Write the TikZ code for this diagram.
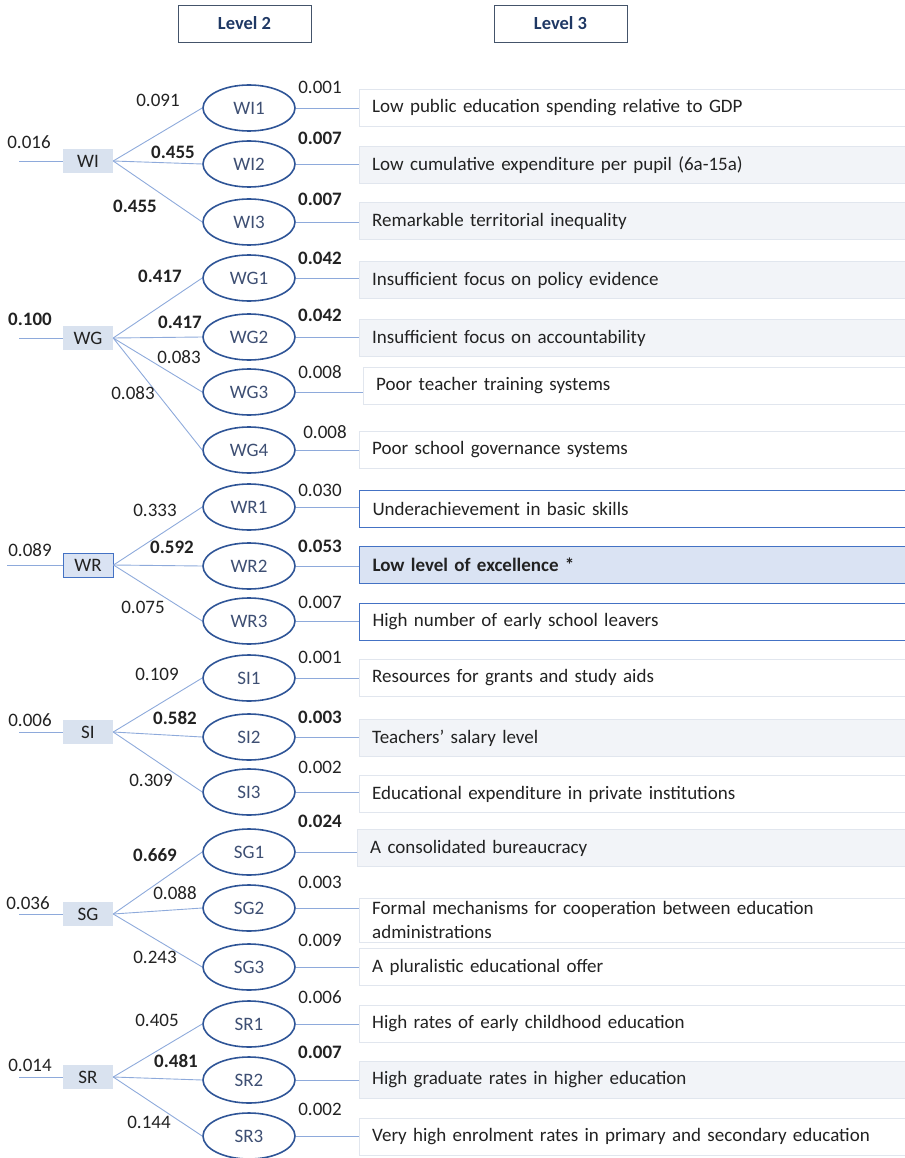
\documentclass[tikz,border=0pt]{standalone}
\usepackage{fontspec}
\setmainfont{Carlito}
\usetikzlibrary{shapes.geometric}
\definecolor{lvfill}{HTML}{D9E2EF}
\definecolor{ellblue}{HTML}{2F5597}
\definecolor{elltext}{HTML}{3E4F73}
\definecolor{linkblue}{HTML}{8EAADB}
\definecolor{indline}{HTML}{E1E6EE}
\definecolor{indfill}{HTML}{F2F4F8}
\definecolor{wrline}{HTML}{4472C4}
\definecolor{wrfill}{HTML}{DAE3F3}
\definecolor{headline}{HTML}{44546A}
\definecolor{headtext}{HTML}{1F3864}
\definecolor{txt}{HTML}{222222}
\begin{document}
\begin{tikzpicture}[x=1pt,y=-1pt,
  every node/.style={font=\fontsize{19}{24}\selectfont,text=txt},
  head/.style={draw=headline,line width=.9pt,minimum width=133pt,minimum height=37pt,
    font=\fontsize{18.5}{22}\selectfont\bfseries,text=headtext},
  lvtwo/.style={fill=lvfill,minimum width=50pt,minimum height=24pt,inner sep=0pt},
  crit/.style={ellipse,draw=ellblue,line width=1.6pt,minimum width=92pt,minimum height=46pt,
    inner sep=0pt,text=elltext},
  ind/.style={draw=indline,fill=white,anchor=west,text width=530pt,align=left,
    inner xsep=13pt,minimum height=37pt},
  indhi/.style={ind,fill=indfill},
  indwr/.style={ind,draw=wrline,line width=1pt},
  indwrhi/.style={indwr,fill=wrfill,font=\fontsize{19}{24}\selectfont\bfseries},
  wt/.style={inner sep=0pt},
  link/.style={draw=linkblue,line width=.9pt}]
\useasboundingbox (0,0) rectangle (904,1158);
% headers
\node[head] (L2) at (244.5,23.5) {Level 2};
\node[head] (L3) at (560.5,23.5) {Level 3};
% level 2
\node[lvtwo] (WI) at (88,161) {WI};
\node[lvtwo] (WG) at (88,338) {WG};
\node[lvtwo,draw=wrline,line width=1pt,fill=wrfill] (WR) at (88,565) {WR};
\node[lvtwo] (SI) at (88,732) {SI};
\node[lvtwo] (SG) at (88,914) {SG};
\node[lvtwo] (SR) at (88,1077) {SR};
\foreach \p/\x/\lx/\ly/\lw in {WI/19/29/142/0.016,WG/19/30/319/{\textbf{0.100}},WR/7/30/550/0.089,
  SI/19/30/720/0.006,SG/19/28/903/0.036,SR/19/30/1065/0.014}{
  \coordinate (i\p) at (\x,0 |- \p.west);
  \draw[link] (i\p) -- (\p.west);
  \node[wt] (v\p) at (\lx,\ly) {\lw};
}
% level 3
\foreach \p/\n/\ey/\lx/\ly/\lw/\wx/\wy/\ww/\st/\bx/\by/\txt in {
  WI/WI1/108/158/100/0.091/320/87/0.001/ind/359/108/{Low public education spending relative to GDP},
  WI/WI2/164/173/152/{\textbf{0.455}}/320/138/{\textbf{0.007}}/indhi/359/165/{Low cumulative expenditure per pupil (6a-15a)},
  WI/WI3/222/135/206/{\textbf{0.455}}/320/199/{\textbf{0.007}}/indhi/359/221/{Remarkable territorial inequality},
  WG/WG1/278/160/276/{\textbf{0.417}}/320/258/{\textbf{0.042}}/indhi/359/280/{Insufficient focus on policy evidence},
  WG/WG2/337/180/322/{\textbf{0.417}}/320/315/{\textbf{0.042}}/indhi/359/338/{Insufficient focus on accountability},
  WG/WG3/392/179/357/0.083/320/372/0.008/ind/363/386/{Poor teacher training systems},
  WG/WG4/450/133/393/0.083/325/432/0.008/ind/359/450/{Poor school governance systems},
  WR/WR1/507/155/510/0.333/320/490/0.030/indwr/359/509/{Underachievement in basic skills},
  WR/WR2/566/172/547/{\textbf{0.592}}/320/546/{\textbf{0.053}}/indwrhi/359/565/{Low level of excellence *},
  WR/WR3/621/143/607/0.075/320/602/0.007/indwr/359/622/{High number of early school leavers},
  SI/SI1/678/157/674/0.109/320/657/0.001/ind/359/678/{Resources for grants and study aids},
  SI/SI2/737/175/718/{\textbf{0.582}}/320/717/{\textbf{0.003}}/indhi/359/738/{Teachers’ salary level},
  SI/SI3/792/151/780/0.309/320/767/0.002/ind/359/794/{Educational expenditure in private institutions},
  SG/SG1/852/155/855/{\textbf{0.669}}/320/821/{\textbf{0.024}}/indhi/357/848/{A consolidated bureaucracy},
  SG/SG2/908/175/893/0.088/320/882/0.003/ind/359/920/{Formal mechanisms for cooperation between education\\administrations},
  SG/SG3/967/155/957/0.243/320/940/0.009/ind/359/967/{A pluralistic educational offer},
  SR/SR1/1024/157/1020/0.405/320/997/0.006/ind/359/1024/{High rates of early childhood education},
  SR/SR2/1080/176/1061/{\textbf{0.481}}/320/1052/{\textbf{0.007}}/indhi/359/1080/{High graduate rates in higher education},
  SR/SR3/1136/149/1122/0.144/320/1109/0.002/ind/359/1137/{Very high enrolment rates in primary and secondary education}}{
  \node[crit] (\n) at (249,\ey) {\n};
  \node[\st] (b\n) at (\bx,\by) {\txt};
  \draw[link] (\p.east) -- (\n.west);
  \draw[link] (\n.east) -- (\n.east -| b\n.west);
  \node[wt] (w\n) at (\lx,\ly) {\lw};
  \node[wt] (v\n) at (\wx,\wy) {\ww};
}
\end{tikzpicture}
\end{document}
